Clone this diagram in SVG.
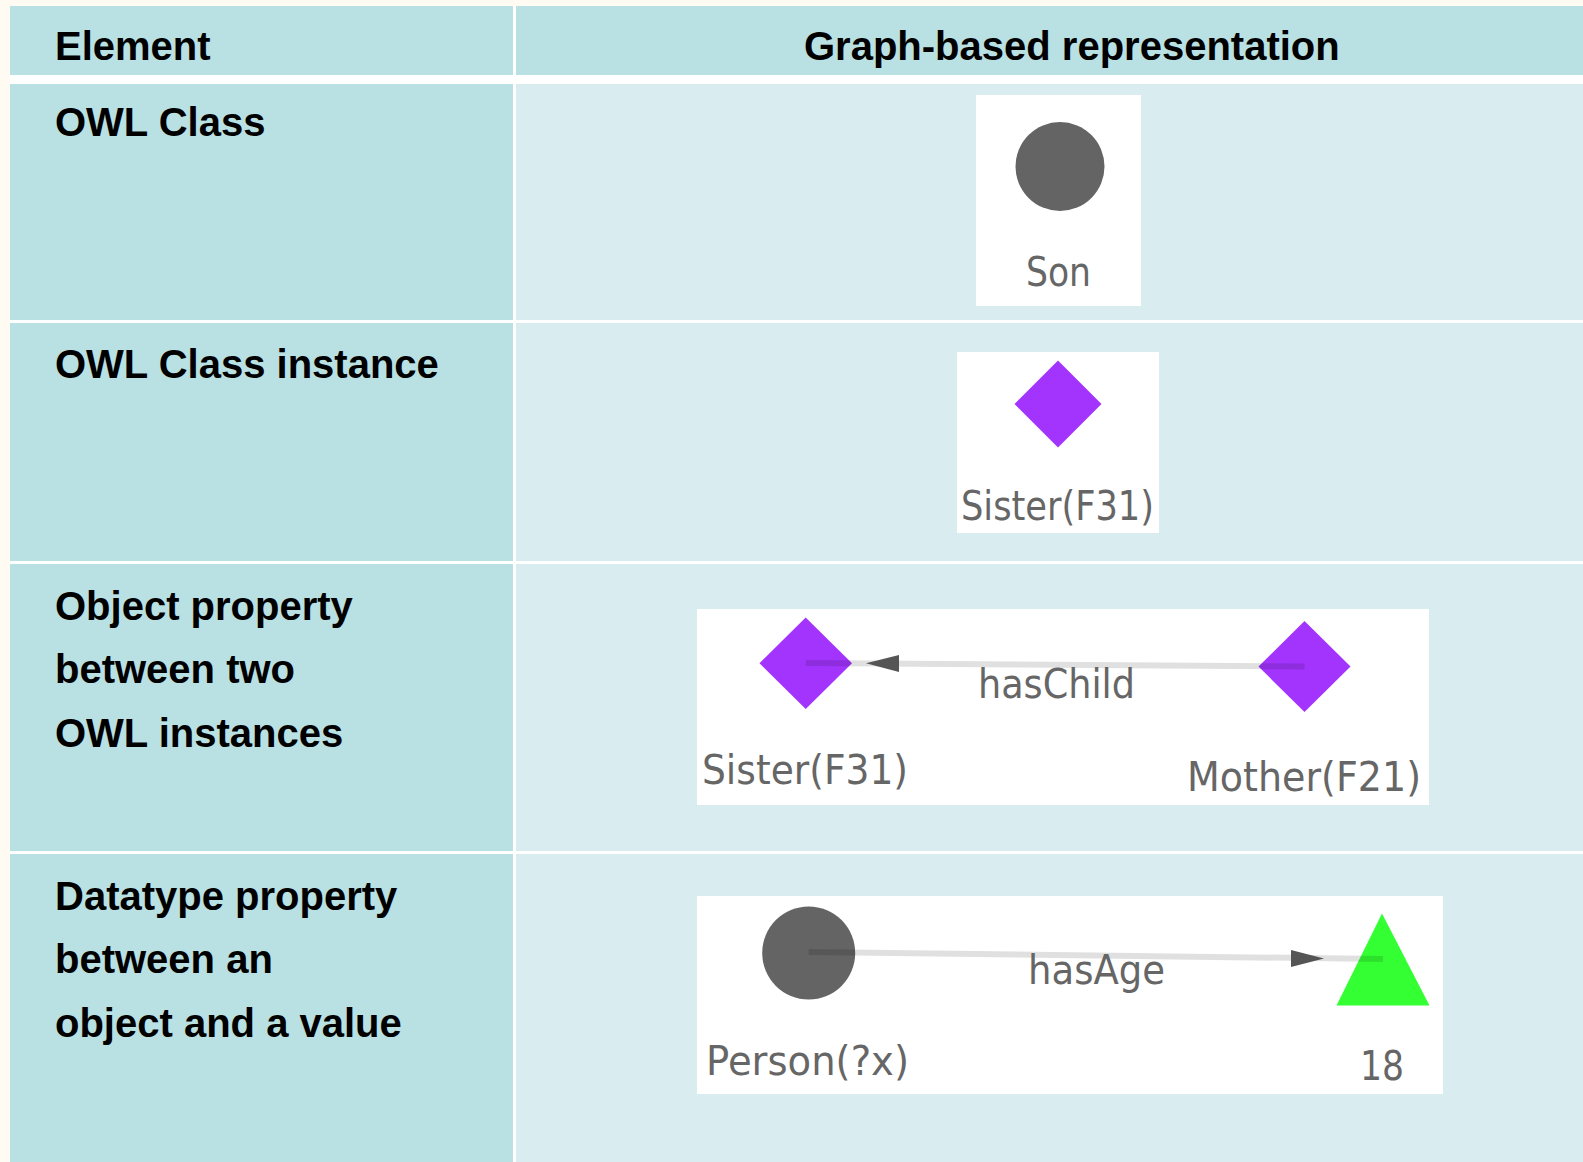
<svg xmlns="http://www.w3.org/2000/svg" width="1583" height="1162" viewBox="0 0 1583 1162">
<defs>
<style>
.hd{fill:#b9e0e3}
.lc{fill:#b9e0e3}
.rc{fill:#d9ecef}
.t{font-family:"Liberation Sans",Arial,sans-serif;font-weight:bold;font-size:40px;fill:#000}
.lb{font-family:"DejaVu Sans",Verdana,sans-serif;font-size:40px;fill:#666}
.box{fill:#fff}
.cls{fill:#646464}
.ind{fill:#a234fd}
.lit{fill:#33ff33}
.edge{stroke:#000;stroke-opacity:0.12;stroke-width:6;fill:none}
.ah{fill:#555}
</style>
</defs>
<rect x="0" y="0" width="1583" height="1162" fill="#fffbf3"/>
<g id="table">
<rect x="10" y="6" width="1573" height="1156" fill="#fff"/>
<rect class="hd" x="10" y="6" width="503" height="69"/>
<rect class="hd" x="516" y="6" width="1067" height="69"/>
<rect class="lc" x="10" y="84" width="503" height="236"/>
<rect class="rc" x="516" y="84" width="1067" height="236"/>
<rect class="lc" x="10" y="323" width="503" height="238"/>
<rect class="rc" x="516" y="323" width="1067" height="238"/>
<rect class="lc" x="10" y="564" width="503" height="287"/>
<rect class="rc" x="516" y="564" width="1067" height="287"/>
<rect class="lc" x="10" y="854" width="503" height="308"/>
<rect class="rc" x="516" y="854" width="1067" height="308"/>
</g>
<g id="headers">
<text class="t" x="55" y="60">Element</text>
<text class="t" x="804" y="60">Graph-based representation</text>
</g>
<g id="elements">
<text class="t" x="55" y="136">OWL Class</text>
<text class="t" x="55" y="378">OWL Class instance</text>
<text class="t" x="55" y="620">Object property</text>
<text class="t" x="55" y="683">between two</text>
<text class="t" x="55" y="747">OWL instances</text>
<text class="t" x="55" y="909.5">Datatype property</text>
<text class="t" x="55" y="973">between an</text>
<text class="t" x="55" y="1036.5">object and a value</text>
</g>
<g id="panels">
<rect class="box" x="976" y="95" width="165" height="211"/>
<rect class="box" x="957" y="352" width="202" height="181"/>
<rect class="box" x="697" y="609" width="732" height="196"/>
<rect class="box" x="697" y="896" width="746" height="198"/>
</g>
<g id="node-son">
<circle class="cls" cx="1060" cy="166.5" r="44.5"/>
<text class="lb" x="1026" y="286" textLength="65" lengthAdjust="spacingAndGlyphs">Son</text>
</g>
<g id="node-sister-single">
<polygon class="ind" points="1058,360.5 1101.5,404 1058,447.5 1014.5,404"/>
<text class="lb" x="961" y="520" textLength="193" lengthAdjust="spacingAndGlyphs">Sister(F31)</text>
</g>
<g id="node-sister">
<polygon class="ind" points="805.7,617.5 852,663.3 805.7,709 759.5,663.3"/>
<text class="lb" x="702" y="784" textLength="206" lengthAdjust="spacingAndGlyphs">Sister(F31)</text>
</g>
<g id="node-mother">
<polygon class="ind" points="1304.5,621 1350.5,666.5 1304.5,712 1258.5,666.5"/>
<text class="lb" x="1187" y="791" textLength="234" lengthAdjust="spacingAndGlyphs">Mother(F21)</text>
</g>
<g id="node-person">
<circle class="cls" cx="808.7" cy="953" r="46.5"/>
<text class="lb" x="706" y="1075" textLength="203" lengthAdjust="spacingAndGlyphs">Person(?x)</text>
</g>
<g id="node-18">
<polygon class="lit" points="1382,913.5 1429.5,1005.5 1336.5,1005.5"/>
<text class="lb" x="1360" y="1080" textLength="44" lengthAdjust="spacingAndGlyphs">18</text>
</g>
<g id="connectors">
<line class="edge" x1="805.7" y1="663" x2="1304.5" y2="666.5"/>
<polygon class="ah" points="866,663.2 899,655 899,672"/>
<text class="lb" x="978" y="698" textLength="157" lengthAdjust="spacingAndGlyphs">hasChild</text>
<line class="edge" x1="808.7" y1="952" x2="1383" y2="959"/>
<polygon class="ah" points="1324,958.5 1291,950 1291,967"/>
<text class="lb" x="1028" y="984" textLength="137" lengthAdjust="spacingAndGlyphs">hasAge</text>
</g>
</svg>
